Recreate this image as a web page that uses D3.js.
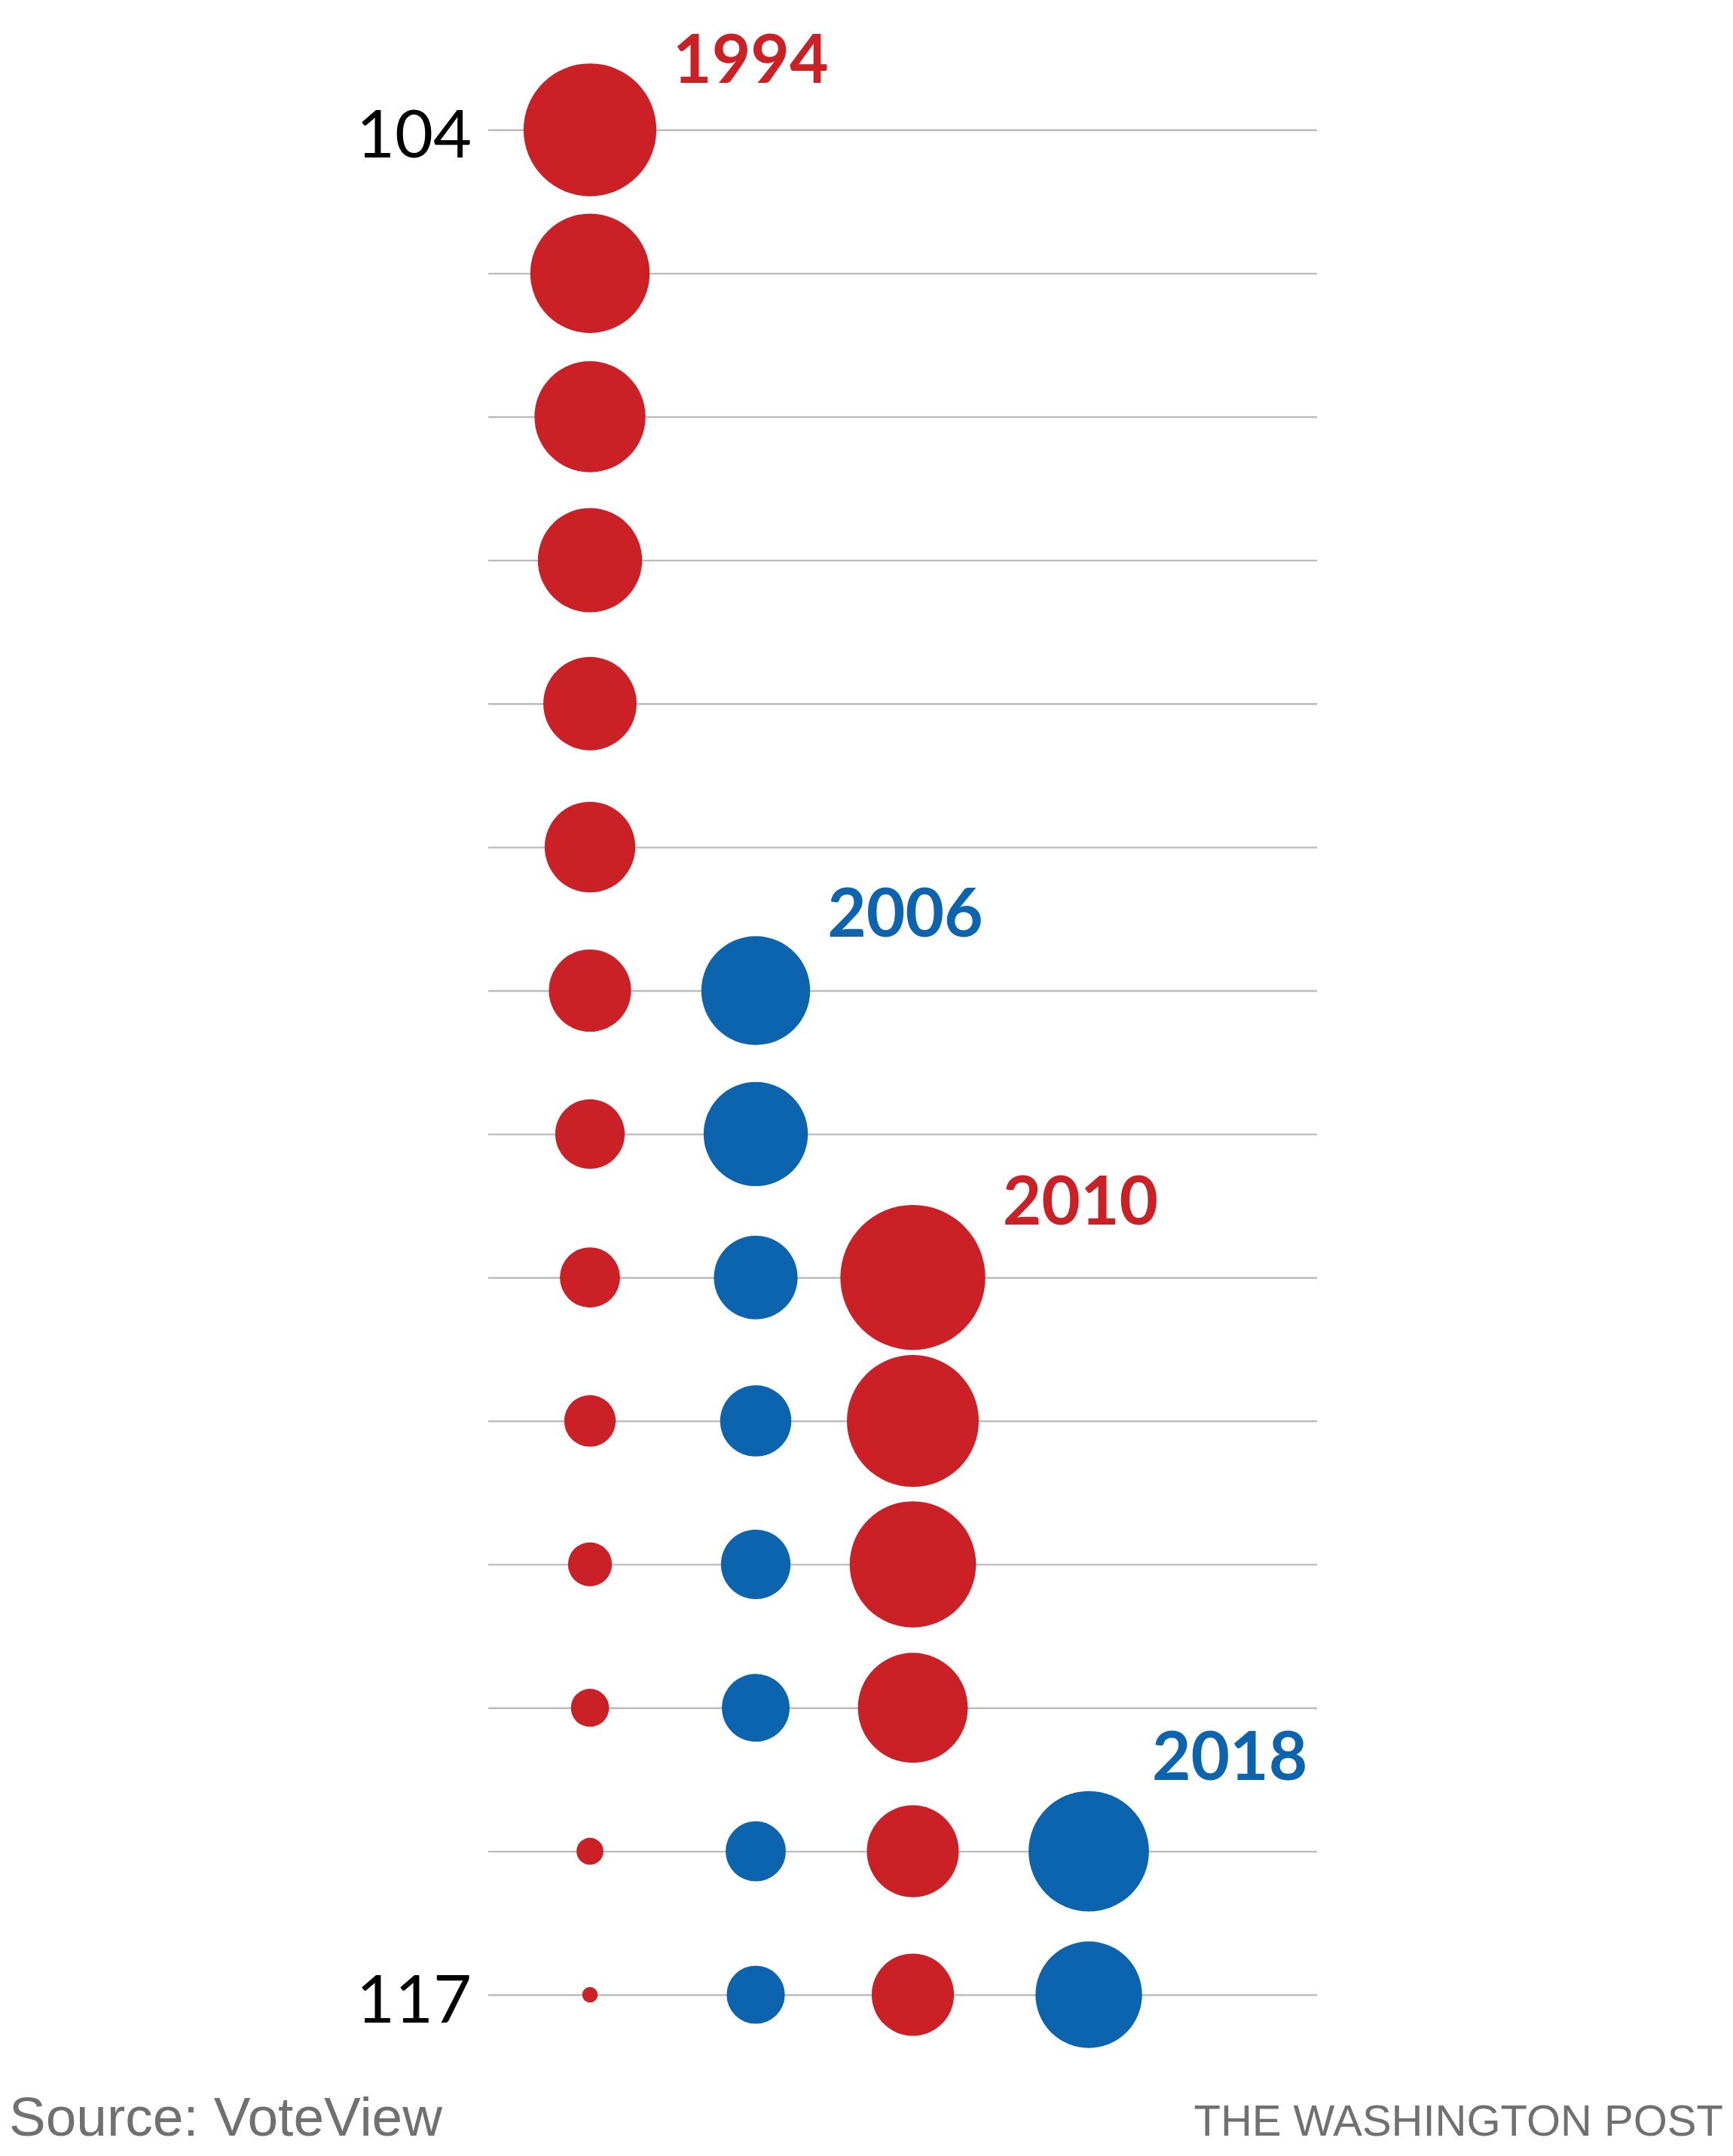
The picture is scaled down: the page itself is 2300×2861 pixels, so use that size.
<!DOCTYPE html>
<html>
<head>
<meta charset="utf-8">
<script src="https://cdn.jsdelivr.net/npm/d3@7"></script>
<style>
  html, body { margin: 0; padding: 0; background: #fff; }
  svg { display: block; }
</style>
</head>
<body>
<svg id="chart" width="2300" height="2861"></svg>
<script>
// ---- Data ----
const congresses = [104, 105, 106, 107, 108, 109, 110, 111, 112, 113, 114, 115, 116, 117];
const waves = ["1994", "2006", "2010", "2018"];
const waveParty = ["R", "D", "R", "D"];
// Members of each wave class still serving, by Congress (null = class not yet elected)
const wave1994 = [73, 59, 51, 45, 36, 34, 28, 20, 15, 11, 8, 6, 3, 1];
const wave2006 = [null, null, null, null, null, null, 49, 45, 29, 21, 20, 19, 15, 14];
const wave2010 = [null, null, null, null, null, null, null, null, 87, 72, 66, 50, 35, 28];
const wave2018 = [null, null, null, null, null, null, null, null, null, null, null, null, 60, 47];
const tickLabels = [104, 117];
const sourceText = "Source: VoteView";
const creditText = "THE WASHINGTON POST";

// ---- Layout / style ----
const colors = { R: "#cc2027", D: "#0c64af" };
const svg = d3.select("#chart");

const y = d3.scalePoint().domain(congresses).range([172.3, 2647]);
const x = d3.scaleOrdinal().domain(waves).range([783, 1003, 1211.5, 1445]);
const r = d3.scaleSqrt().domain([0, 87]).range([0, 96.2]);

const gridLeft = 648, gridRight = 1748;

// Axis with gridlines
const axis = d3.axisLeft(y)
  .tickSizeInner(-(gridRight - gridLeft))
  .tickSizeOuter(0)
  .tickPadding(22)
  .tickFormat(d => tickLabels.includes(d) ? String(d) : "");

const gAxis = svg.append("g")
  .attr("transform", `translate(${gridLeft},0)`)
  .call(axis);
gAxis.select(".domain").remove();
gAxis.selectAll(".tick line")
  .attr("stroke", "#bcbcbc")
  .attr("stroke-width", 2.4);
gAxis.selectAll(".tick text")
  .attr("font-family", "Lato, 'Open Sans', sans-serif")
  .attr("font-weight", 400)
  .attr("font-size", 88)
  .attr("fill", "#000")
  .attr("dy", 36);

// Circles
const series = [wave1994, wave2006, wave2010, wave2018];
const points = [];
series.forEach((vals, i) => {
  vals.forEach((v, j) => {
    if (v != null) points.push({ wave: waves[i], party: waveParty[i], congress: congresses[j], value: v });
  });
});

svg.append("g")
  .selectAll("circle")
  .data(points)
  .join("circle")
  .attr("cx", d => x(d.wave))
  .attr("cy", d => y(d.congress))
  .attr("r", d => r(d.value))
  .attr("fill", d => colors[d.party]);

// Wave labels next to first circle of each class
const labelOffset = { "1994": [22, -62], "2006": [23, -71], "2010": [23, -70], "2018": [4, -95] };
const labels = waves.map((w, i) => {
  const vals = series[i];
  const j = vals.findIndex(v => v != null);
  return { wave: w, party: waveParty[i], congress: congresses[j], value: vals[j] };
});

svg.append("g")
  .selectAll("text")
  .data(labels)
  .join("text")
  .attr("x", d => x(d.wave) + r(d.value) + labelOffset[d.wave][0])
  .attr("y", d => y(d.congress) + labelOffset[d.wave][1])
  .attr("font-family", "Lato, 'DejaVu Sans', sans-serif")
  .attr("font-weight", 700)
  .attr("font-size", 89)
  .attr("fill", d => colors[d.party])
  .text(d => d.wave);

// Footer
svg.append("text")
  .attr("x", 12)
  .attr("y", 2834)
  .attr("font-family", "'Liberation Sans', Arial, sans-serif")
  .attr("font-size", 73)
  .attr("fill", "#707070")
  .text(sourceText);

svg.append("text")
  .attr("x", 2287)
  .attr("y", 2834)
  .attr("text-anchor", "end")
  .attr("font-family", "'Liberation Sans', Arial, sans-serif")
  .attr("font-size", 58)
  .attr("fill", "#707070")
  .text(creditText);
</script>
</body>
</html>
